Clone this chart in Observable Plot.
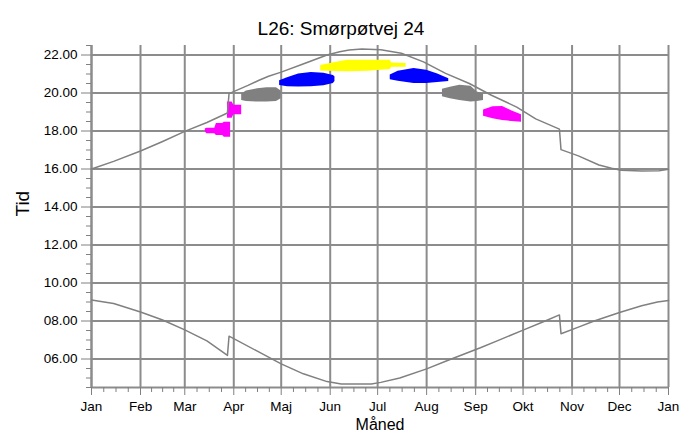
<!DOCTYPE html>
<html>
<head>
<meta charset="utf-8">
<script src="https://cdn.jsdelivr.net/npm/d3@7"></script>
<script src="https://cdn.jsdelivr.net/npm/@observablehq/plot@0.6"></script>
<style>
  body { margin: 0; background: #fff; }
  #chart svg { display: block; }
</style>
</head>
<body>
<div id="chart"></div>
<script>
// ---------- Data ----------
const title = "L26: Smørpøtvej 24";
const xLabel = "Måned";
const yLabel = "Tid";
const monthLabels = ["Jan","Feb","Mar","Apr","Maj","Jun","Jul","Aug","Sep","Okt","Nov","Dec","Jan"];
const yTicks = [6, 8, 10, 12, 14, 16, 18, 20, 22];

// Sunset (upper curve), hours
const sunsetDates = ["2015-01-01","2015-01-15","2015-02-01","2015-02-15","2015-03-01","2015-03-15","2015-03-28",
  "2015-03-29","2015-04-10","2015-04-17","2015-04-23","2015-05-01","2015-05-14","2015-05-30","2015-06-07","2015-06-13",
  "2015-06-21","2015-07-03","2015-07-16","2015-07-30","2015-08-13","2015-08-28","2015-09-11","2015-09-27","2015-10-09",
  "2015-10-24","2015-10-25","2015-11-05","2015-11-18","2015-11-26","2015-12-02","2015-12-15","2015-12-26","2016-01-01"];
const sunsetTimes = [16.00, 16.40, 16.95, 17.45, 17.98, 18.45, 18.95,
  19.97, 20.40, 20.67, 20.88, 21.10, 21.50, 22.00, 22.17, 22.26,
  22.32, 22.28, 22.09, 21.64, 21.03, 20.50, 19.88, 19.26, 18.64,
  18.10, 17.02, 16.69, 16.21, 16.04, 15.93, 15.90, 15.91, 15.99];

// Sunrise (lower curve), hours
const sunriseDates = ["2015-01-01","2015-01-15","2015-02-01","2015-02-15","2015-03-01","2015-03-15","2015-03-28",
  "2015-03-29","2015-04-15","2015-05-01","2015-05-15","2015-05-30","2015-06-08","2015-06-27","2015-07-03","2015-07-15",
  "2015-08-01","2015-08-15","2015-09-04","2015-09-15","2015-10-01","2015-10-15","2015-10-24",
  "2015-10-25","2015-11-05","2015-11-15","2015-12-01","2015-12-15","2015-12-25","2016-01-01"];
const sunriseTimes = [9.10, 8.92, 8.47, 8.05, 7.53, 6.95, 6.19,
  7.20, 6.45, 5.74, 5.22, 4.81, 4.68, 4.68, 4.77, 5.00,
  5.48, 5.95, 6.59, 6.97, 7.52, 8.00, 8.32,
  7.33, 7.68, 8.00, 8.45, 8.80, 9.00, 9.08];

// Shadow periods (blobs): id, colour, date, lower/upper time
const blobIds = [
  "A","A","A","A","A","A","A",
  "B","B","B","B",
  "C","C","C","C","C","C",
  "D","D","D","D","D","D","D",
  "E","E","E","E","E","E","E",
  "F","F","F","F","F","F",
  "G","G","G","G","G","G",
  "H","H","H","H","H"];
const blobColors = {A: "#ff00ff", B: "#ff00ff", C: "#808080", D: "#0000ff", E: "#ffff00", F: "#0000ff", G: "#808080", H: "#ff00ff"};
const blobDates = [
  "2015-03-14","2015-03-15","2015-03-20","2015-03-21","2015-03-25","2015-03-26","2015-03-30",
  "2015-03-28","2015-03-31","2015-04-01","2015-04-06",
  "2015-04-06","2015-04-09","2015-04-16","2015-04-22","2015-04-28","2015-05-01",
  "2015-04-30","2015-05-05","2015-05-12","2015-05-20","2015-05-28","2015-06-03","2015-06-04",
  "2015-05-26","2015-06-05","2015-06-12","2015-06-25","2015-07-09","2015-07-10","2015-07-19",
  "2015-07-09","2015-07-14","2015-07-24","2015-08-01","2015-08-08","2015-08-15",
  "2015-08-11","2015-08-16","2015-08-22","2015-08-29","2015-09-02","2015-09-06",
  "2015-09-06","2015-09-12","2015-09-18","2015-09-24","2015-09-30"];
const blobLow = [
  17.95, 17.85, 17.85, 17.76, 17.76, 17.67, 17.67,
  18.67, 18.67, 18.85, 18.85,
  19.60, 19.55, 19.52, 19.52, 19.55, 19.70,
  20.40, 20.33, 20.32, 20.33, 20.38, 20.50, 20.60,
  21.16, 21.13, 21.12, 21.15, 21.24, 21.35, 21.36,
  20.70, 20.62, 20.50, 20.50, 20.55, 20.60,
  19.80, 19.70, 19.60, 19.52, 19.55, 19.60,
  18.78, 18.64, 18.55, 18.50, 18.46];
const blobHigh = [
  18.10, 18.15, 18.15, 18.39, 18.39, 18.46, 18.46,
  19.52, 19.52, 19.35, 19.35,
  19.95, 20.10, 20.22, 20.28, 20.28, 20.10,
  20.65, 20.80, 21.00, 21.08, 21.04, 20.92, 20.85,
  21.45, 21.62, 21.72, 21.73, 21.72, 21.58, 21.55,
  20.95, 21.15, 21.29, 21.20, 21.00, 20.75,
  20.20, 20.30, 20.41, 20.35, 20.05, 19.95,
  19.10, 19.27, 19.29, 19.05, 18.85];

// ---------- Build tables ----------
const parse = d3.utcParse("%Y-%m-%d");
const sunset = sunsetDates.map((d, i) => ({date: parse(d), t: sunsetTimes[i]}));
const sunrise = sunriseDates.map((d, i) => ({date: parse(d), t: sunriseTimes[i]}));
const blobs = blobDates.map((d, i) => ({id: blobIds[i], color: blobColors[blobIds[i]], date: parse(d), lo: blobLow[i], hi: blobHigh[i]}));

const x0 = parse("2015-01-01"), x1 = parse("2016-01-01");
const monthTicks = d3.utcMonths(x0, d3.utcDay.offset(x1, 1));
const minorX = [];
for (let i = 0; i < monthTicks.length - 1; i++) {
  const a = +monthTicks[i], b = +monthTicks[i + 1];
  for (let k = 1; k < 4; k++) minorX.push(new Date(a + (b - a) * k / 4));
}
const minorY = d3.range(4.5, 22.51, 0.5).filter(v => v % 2 !== 0);
const monthLabel = d => d.getUTCFullYear() === 2016 ? monthLabels[12] : monthLabels[d.getUTCMonth()];
const yFmt = d => String(d).padStart(2, "0") + ".00";

const gridColor = "#8c8c8c";
const lineColor = "#808080";

const chart = Plot.plot({
  width: 681,
  height: 436,
  marginLeft: 91,
  marginRight: 13,
  marginTop: 45,
  marginBottom: 49,
  style: {fontFamily: "'Liberation Sans', Arial, sans-serif", fontSize: "13.5px", color: "#000", background: "#fff"},
  x: {type: "utc", domain: [x0, x1], axis: null},
  y: {domain: [4.5, 22.5], axis: null},
  color: {type: "identity"},
  marks: [
    Plot.ruleX(monthTicks, {stroke: gridColor, strokeWidth: 2}),
    Plot.ruleY(yTicks, {stroke: gridColor, strokeWidth: 2}),
    Plot.ruleX([x0], {stroke: gridColor, strokeWidth: 2}),
    Plot.ruleY([4.5], {stroke: gridColor, strokeWidth: 2}),
    Plot.areaY(blobs, {x: "date", y1: "lo", y2: "hi", z: "id", fill: "color"}),
    Plot.line(sunset, {x: "date", y: "t", stroke: lineColor, strokeWidth: 1.5}),
    Plot.line(sunrise, {x: "date", y: "t", stroke: lineColor, strokeWidth: 1.5}),
    Plot.axisX(monthTicks, {tickSize: 8, tickPadding: 6, tickFormat: monthLabel, stroke: lineColor, label: null}),
    Plot.axisX(minorX, {tickSize: 5, tickFormat: () => "", stroke: lineColor, label: null}),
    Plot.axisY(yTicks, {tickSize: 10, tickPadding: 4, tickFormat: yFmt, stroke: lineColor, label: null}),
    Plot.axisY(minorY, {tickSize: 5, tickFormat: () => "", stroke: lineColor, label: null}),
    Plot.text([title], {frameAnchor: "top", dx: -39, dy: -24, fontSize: 19}),
    Plot.text([xLabel], {frameAnchor: "bottom", dy: 42, fontSize: 16}),
    Plot.text([yLabel], {frameAnchor: "left", dx: -69, rotate: -90, fontSize: 19})
  ]
});
document.getElementById("chart").appendChild(chart);
</script>
</body>
</html>
